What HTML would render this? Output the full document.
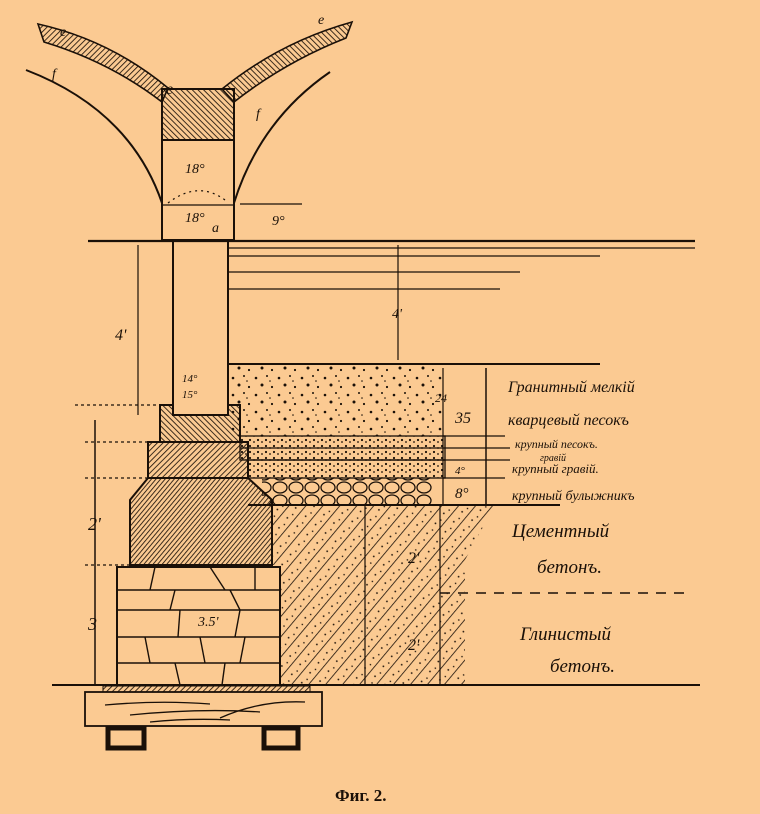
<!DOCTYPE html>
<html><head><meta charset="utf-8"><style>
html,body{margin:0;padding:0;background:#fbca92;}
svg{display:block}
.h{font-family:"Liberation Serif",serif;font-style:italic;fill:#1a1008}
</style></head><body>
<svg width="760" height="814" viewBox="0 0 760 814" xmlns="http://www.w3.org/2000/svg">
<defs>
<pattern id="h1" width="4" height="4" patternUnits="userSpaceOnUse" patternTransform="rotate(45)"><line x1="0" y1="0" x2="0" y2="4" stroke="#1a1008" stroke-width="1.7"/></pattern>
<pattern id="h2" width="4" height="4" patternUnits="userSpaceOnUse" patternTransform="rotate(-45)"><line x1="0" y1="0" x2="0" y2="4" stroke="#1a1008" stroke-width="1.7"/></pattern>
<pattern id="h3" width="3.5" height="3.5" patternUnits="userSpaceOnUse" patternTransform="rotate(40)"><line x1="0" y1="0" x2="0" y2="3.5" stroke="#1a1008" stroke-width="1.7"/></pattern>
<pattern id="h4" width="13" height="13" patternUnits="userSpaceOnUse" patternTransform="rotate(40)"><line x1="0" y1="0" x2="0" y2="13" stroke="#1a1008" stroke-width="1.6"/><circle cx="7" cy="4" r="0.9" fill="#1a1008"/><circle cx="9" cy="11" r="0.8" fill="#1a1008"/></pattern>
<pattern id="dots" width="23" height="17" patternUnits="userSpaceOnUse"><circle cx="3" cy="4" r="1.3" fill="#1a1008"/><circle cx="14" cy="2" r="1" fill="#1a1008"/><circle cx="9" cy="11" r="1.5" fill="#1a1008"/><circle cx="19" cy="13" r="1.1" fill="#1a1008"/><circle cx="17" cy="7" r="0.8" fill="#1a1008"/></pattern>
<pattern id="fdots" width="8" height="6" patternUnits="userSpaceOnUse"><circle cx="2" cy="2" r="1.1" fill="#1a1008"/><circle cx="6" cy="4" r="0.9" fill="#1a1008"/></pattern>
<pattern id="bould" width="16" height="13" patternUnits="userSpaceOnUse"><ellipse cx="8" cy="6.5" rx="7" ry="5.5" fill="none" stroke="#1a1008" stroke-width="1.3"/></pattern>
</defs>
<g stroke="#1a1008" fill="none" stroke-width="2">
<path d="M38,24 Q110,40 168,88 L162,102 Q110,62 44,42 Z" fill="url(#h1)" stroke-width="1.6"/>
<path d="M222,89 Q280,42 352,22 L346,38 Q285,62 234,102 Z" fill="url(#h2)" stroke-width="1.6"/>
<path d="M26,70 Q130,110 162,203"/>
<path d="M234,203 Q260,120 330,72"/>
<rect x="162" y="89" width="72" height="51" fill="url(#h2)"/>
<rect x="162" y="140" width="72" height="100"/>
<line x1="162" y1="205" x2="234" y2="205" stroke-width="1.2"/>
<path d="M168,203 Q198,180 225,200" stroke-dasharray="2,4" stroke-width="1.2"/>
<line x1="240" y1="204" x2="302" y2="204" stroke-width="1.2"/>
<line x1="88" y1="241" x2="695" y2="241" stroke-width="2.2"/>
<g stroke-width="1.2"><line x1="228" y1="248" x2="695" y2="248"/><line x1="228" y1="256" x2="600" y2="256"/><line x1="228" y1="272" x2="520" y2="272"/><line x1="228" y1="289" x2="500" y2="289"/></g>
<line x1="398" y1="245" x2="398" y2="360" stroke-width="1.2"/>
<line x1="173" y1="241" x2="173" y2="415"/><line x1="228" y1="241" x2="228" y2="405"/>
<line x1="138" y1="245" x2="138" y2="415" stroke-width="1.2"/>
<rect x="230" y="364" width="213" height="72" fill="url(#dots)" stroke="none"/>
<line x1="228" y1="364" x2="600" y2="364"/>
<line x1="486" y1="368" x2="486" y2="505" stroke-width="1.5"/>
<line x1="443" y1="368" x2="443" y2="505" stroke-width="1.2"/>
<rect x="240" y="436" width="205" height="24" fill="url(#fdots)" stroke-width="1.3"/>
<line x1="240" y1="448" x2="510" y2="448" stroke-width="1.2"/>
<rect x="248" y="460" width="197" height="18" fill="url(#fdots)" stroke-width="1.3"/>
<line x1="443" y1="436" x2="505" y2="436" stroke-width="1.2"/>
<line x1="443" y1="460" x2="510" y2="460" stroke-width="1.2"/>
<line x1="443" y1="478" x2="505" y2="478" stroke-width="1.2"/>
<rect x="262" y="478" width="170" height="27" fill="url(#bould)" stroke="none"/>
<line x1="248" y1="505" x2="560" y2="505"/>
<path d="M160,405 L173,405 L173,415 L228,415 L228,405 L240,405 L240,442 L160,442 Z" fill="url(#h2)"/>
<rect x="148" y="442" width="100" height="36" fill="url(#h1)"/>
<path d="M148,478 L248,478 L272,500 L272,565 L130,565 L130,500 Z" fill="url(#h3)"/>
<rect x="117" y="567" width="163" height="118" fill="#fbca92"/>
<g stroke-width="1.4"><line x1="117" y1="590" x2="280" y2="590"/><line x1="117" y1="610" x2="280" y2="610"/><line x1="117" y1="637" x2="280" y2="637"/><line x1="117" y1="663" x2="280" y2="663"/>
<line x1="155" y1="567" x2="150" y2="590"/><line x1="210" y1="567" x2="225" y2="590"/><line x1="255" y1="567" x2="255" y2="590"/><line x1="175" y1="590" x2="170" y2="610"/><line x1="230" y1="590" x2="240" y2="610"/><line x1="180" y1="610" x2="178" y2="637"/><line x1="240" y1="610" x2="235" y2="637"/><line x1="145" y1="637" x2="150" y2="663"/><line x1="200" y1="637" x2="205" y2="663"/><line x1="245" y1="637" x2="240" y2="663"/><line x1="175" y1="663" x2="180" y2="685"/><line x1="225" y1="663" x2="222" y2="685"/></g>
<rect x="117" y="567" width="163" height="118"/>
<path d="M272,505 L495,505 L465,560 L465,685 L280,685 L280,565 L272,565 Z" fill="url(#h4)" stroke="none"/>
<line x1="365" y1="505" x2="365" y2="685" stroke-width="1.2"/>
<line x1="440" y1="505" x2="440" y2="685" stroke-width="1.2"/>
<line x1="440" y1="593" x2="690" y2="593" stroke-dasharray="10,8" stroke-width="1.5"/>
<g stroke-width="1.2" stroke-dasharray="3,3"><line x1="75" y1="405" x2="160" y2="405"/><line x1="85" y1="442" x2="148" y2="442"/><line x1="85" y1="478" x2="148" y2="478"/><line x1="85" y1="565" x2="130" y2="565"/></g>
<line x1="95" y1="420" x2="95" y2="685" stroke-width="1.5"/>
<line x1="52" y1="685" x2="700" y2="685" stroke-width="2"/>
<rect x="103" y="686" width="207" height="6" fill="url(#h1)" stroke-width="1"/>
<rect x="85" y="692" width="237" height="34" stroke-width="1.8"/>
<g stroke-width="1.3"><path d="M105,705 Q160,700 210,704"/><path d="M130,715 Q200,708 260,712"/><path d="M220,718 Q260,700 305,702"/><path d="M150,722 Q190,718 230,720"/></g>
<rect x="108" y="728" width="36" height="20" stroke-width="5"/>
<rect x="264" y="728" width="34" height="20" stroke-width="5"/>
</g>
<g class="h" font-size="14">
<text x="166" y="94" font-size="16">e</text>
<text x="60" y="36">e</text><text x="318" y="24">e</text>
<text x="52" y="78">f</text><text x="256" y="118">f</text>
<text x="185" y="173">18°</text><text x="185" y="222">18°</text><text x="212" y="232">a</text><text x="272" y="225">9°</text>
<text x="392" y="318">4'</text><text x="115" y="340" font-size="16">4'</text>
<text x="182" y="382" font-size="11">14°</text><text x="182" y="398" font-size="11">15°</text>
<text x="435" y="402" font-size="12">24</text><text x="455" y="423" font-size="16">35</text>
<text x="455" y="474" font-size="11">4°</text><text x="455" y="498" font-size="15">8°</text>
<text x="88" y="530" font-size="18">2'</text><text x="88" y="630" font-size="18">3</text>
<text x="198" y="626" font-size="14">3.5'</text>
<text x="408" y="563" font-size="16">2'</text><text x="408" y="650" font-size="16">2'</text>
<text x="508" y="392" font-size="16">Гранитный мелкій</text>
<text x="508" y="425" font-size="16">кварцевый песокъ</text>
<text x="515" y="448" font-size="12">крупный песокъ.</text>
<text x="540" y="461" font-size="10">гравій</text>
<text x="512" y="473" font-size="13">крупный гравій.</text>
<text x="512" y="500" font-size="14">крупный булыжникъ</text>
<text x="512" y="537" font-size="19">Цементный</text>
<text x="537" y="573" font-size="19">бетонъ.</text>
<text x="520" y="640" font-size="19">Глинистый</text>
<text x="550" y="672" font-size="19">бетонъ.</text>
</g>
<text x="335" y="801" font-family="Liberation Serif,serif" font-weight="bold" font-size="17" fill="#1a1008">Фиг. 2.</text>
</svg>
</body></html>
